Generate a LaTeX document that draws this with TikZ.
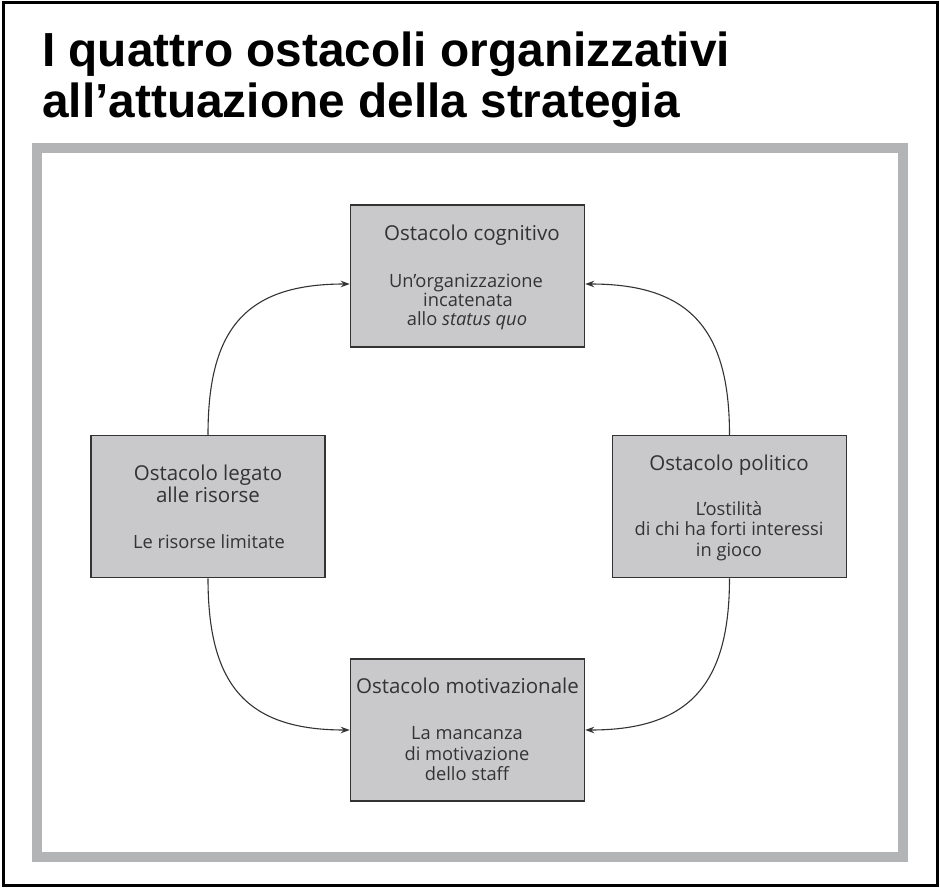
\documentclass[tikz,border=0pt]{standalone}
\usepackage{fontspec}
\setmainfont{Open Sans}
\newfontfamily\titlefont{Liberation Sans}
\usetikzlibrary{arrows.meta}
\definecolor{boxgray}{HTML}{C9C9CB}
\definecolor{framegray}{HTML}{B3B4B6}
\definecolor{ink}{HTML}{333333}
\tikzset{
  obox/.style={draw=ink, line width=1.5pt, fill=boxgray, minimum width=234pt, minimum height=142pt, inner sep=0pt},
  head/.style={anchor=base, inner sep=0pt, text=ink, font=\fontsize{20.5}{20.5}\selectfont},
  body/.style={anchor=base, inner sep=0pt, text=ink, font=\fontsize{18.3}{18.3}\selectfont},
  conn/.style={draw=ink, line width=1.1pt, -{Stealth[length=9pt,width=6.5pt]}},
  ttl/.style={anchor=base west, inner sep=0pt, font=\titlefont\bfseries\fontsize{47.8}{51}\selectfont}
}
\begin{document}
\begin{tikzpicture}[x=1pt,y=-1pt]
\useasboundingbox (0,0) rectangle (940,888);
\draw[line width=3pt] (3,3) rectangle (937,885);
\node[ttl] (title1) at (42,67) {I quattro ostacoli organizzativi};
\node[ttl] (title2) at (42,118) {all’attuazione della strategia};
\draw[framegray, line width=10pt] (37,148) rectangle (903,857);
% boxes
\node[obox] (tb) at (467.5,276) {};
\node[obox] (lb) at (208,506.5) {};
\node[obox] (rb) at (729.5,506.5) {};
\node[obox] (bb) at (467.5,730) {};
% top box text
\node[head] (t1) at (472,240) {Ostacolo cognitivo};
\node[body] (t2) at (466,287) {Un’organizzazione};
\node[body] (t3) at (468,306) {incatenata};
\node[body] (t4) at (467,325) {allo \textit{status quo}};
% left box text
\node[head] (l1) at (208,480) {Ostacolo legato};
\node[head] (l2) at (208,502) {alle risorse};
\node[body] (l3) at (209,548) {Le risorse limitate};
% right box text
\node[head] (r1) at (729,470) {Ostacolo politico};
\node[body] (r2) at (729,515) {L’ostilità};
\node[body] (r3) at (729,535) {di chi ha forti interessi};
\node[body] (r4) at (729,556) {in gioco};
% bottom box text
\node[head] (b1) at (467.5,693) {Ostacolo motivazionale};
\node[body] (b2) at (467,739) {La mancanza};
\node[body] (b3) at (467,760) {di motivazione};
\node[body] (b4) at (467,780) {dello staff};
% connectors
\draw[conn] (lb.north) .. controls +(0,-105) and +(-105,0) .. ([yshift=-8pt]tb.west);
\draw[conn] (rb.north) .. controls +(0,-105) and +(105,0) .. ([yshift=-8pt]tb.east);
\draw[conn] (lb.south) .. controls +(0,105) and +(-105,0) .. (bb.west);
\draw[conn] (rb.south) .. controls +(0,105) and +(105,0) .. (bb.east);
\end{tikzpicture}
\end{document}
